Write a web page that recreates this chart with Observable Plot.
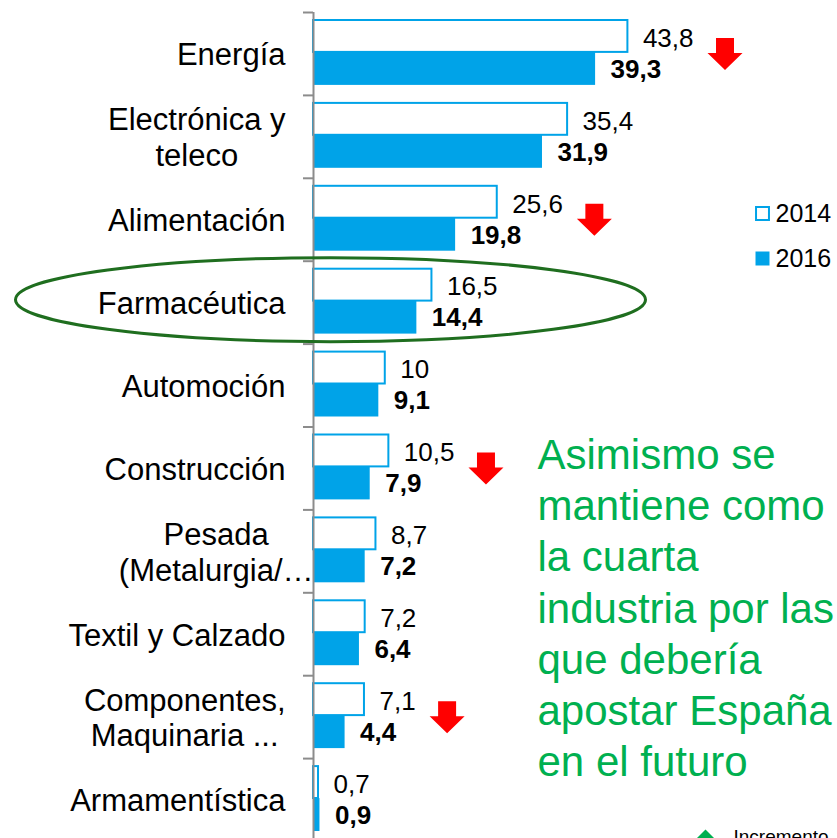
<!DOCTYPE html>
<html><head><meta charset="utf-8">
<script src="https://cdn.jsdelivr.net/npm/d3@7"></script>
<script src="https://cdn.jsdelivr.net/npm/@observablehq/plot@0.6"></script>
<style>
html,body{margin:0;padding:0;background:#fff;overflow:hidden}
#chart{width:837px;height:838px;overflow:hidden;position:relative}
#chart svg{overflow:hidden}
</style>
</head><body><div id="chart"></div>
<script>
// ---- data ----
const categories = ["Energía","Electrónica y\nteleco","Alimentación","Farmacéutica","Automoción","Construcción","Pesada\n(Metalurgia/…","Textil y Calzado","Componentes,\nMaquinaria ...","Armamentística"];
const values2014 = [43.8,35.4,25.6,16.5,10,10.5,8.7,7.2,7.1,0.7];
const values2016 = [39.3,31.9,19.8,14.4,9.1,7.9,7.2,6.4,4.4,0.9];
const seriesNames = ["2014","2016"];
const decreaseCats = ["Energía","Alimentación","Construcción","Componentes,\nMaquinaria ..."];
const highlightCat = "Farmacéutica";
const noteText = "Asimismo se\nmantiene como\nla cuarta\nindustria por las\nque debería\napostar España\nen el futuro";
const footLegend = "Incremento";

// ---- styling ----
const blue = "#00A3E8";
const green = "#00B050";
const darkGreen = "#1F6E1F";
const axisGray = "#8C8C8C";
const fontFamily = "'Liberation Sans', Arial, Helvetica, sans-serif";
const catFont = 31, valFont = 26;
const W = 837, H = 838, mL = 313, mT = 12;
const yRange = [12, 841];
const bw = (yRange[1] - yRange[0]) / categories.length;

const rows = categories.map((c, i) => ({cat: c, v14: values2014[i], v16: values2016[i]}));
const fmt = v => String(v).replace(".", ",");
const ctx = document.createElement("canvas").getContext("2d");
const measure = (s, px, weight = "normal") => { ctx.font = `${weight} ${px}px ${fontFamily}`; return ctx.measureText(s).width; };

const arrowSymbol = {draw(context, size) {
  const r = Math.sqrt(size / Math.PI);
  const sw = 0.514 * r, top = -0.914 * r, hs = -0.057 * r, tip = 0.914 * r;
  context.moveTo(-sw, top); context.lineTo(sw, top); context.lineTo(sw, hs);
  context.lineTo(r, hs); context.lineTo(0, tip); context.lineTo(-r, hs);
  context.lineTo(-sw, hs); context.closePath();
}};
const ellipseSymbol = {draw(context, size) {
  const ry = Math.sqrt(size / Math.PI), rx = ry * 7.5, k = 0.5523;
  context.moveTo(rx, 0);
  context.bezierCurveTo(rx, k * ry, k * rx, ry, 0, ry);
  context.bezierCurveTo(-k * rx, ry, -rx, k * ry, -rx, 0);
  context.bezierCurveTo(-rx, -k * ry, -k * rx, -ry, 0, -ry);
  context.bezierCurveTo(k * rx, -ry, rx, -k * ry, rx, 0);
  context.closePath();
}};

// category labels: block centred, right edge 28px left of axis
const labelMarks = categories.map(c => {
  const lines = c.split("\n");
  const w = Math.max(...lines.map(l => measure(l, catFont)));
  const right = c.endsWith("…") ? 0 : -28;
  return Plot.text([c], {y: d => d, text: d => d, frameAnchor: "left", textAnchor: "middle", lineAnchor: "middle",
    dx: right - w / 2, fontSize: catFont, lineHeight: 1.15, fill: "black"});
});

const arrowMarks = rows.filter(r => decreaseCats.includes(r.cat)).map(r =>
  Plot.dot([r], {x: "v14", y: "cat", dx: 15 + measure(fmt(r.v14), valFont) + 14 + 17.5,
    r: 17.5, symbol: arrowSymbol, fill: "#FF0000", stroke: "none"}));

const chart = Plot.plot({
  width: W, height: H,
  marginLeft: mL, marginRight: 0, marginTop: mT, marginBottom: 0,
  style: {fontFamily, background: "white", color: "black"},
  x: {domain: [0, 73], axis: null},
  y: {domain: categories, range: yRange, padding: 0, round: false, axis: null},
  marks: [
    Plot.barX(rows, {x: "v14", y: "cat", fill: "white", stroke: blue, strokeWidth: 2, insetTop: 8, insetBottom: 43}),
    Plot.barX(rows, {x: "v16", y: "cat", fill: blue, insetTop: 40, insetBottom: 10}),
    Plot.ruleX([0], {stroke: axisGray, strokeWidth: 2}),
    Plot.ruleY(categories, {y: d => d, x1: 0, x2: 0, insetLeft: -10, dy: -bw / 2, stroke: axisGray, strokeWidth: 2}),
    Plot.text(rows, {x: "v14", y: "cat", text: d => fmt(d.v14), dx: 15, dy: -15.5, textAnchor: "start", fontSize: valFont, fill: "black"}),
    Plot.text(rows, {x: "v16", y: "cat", text: d => fmt(d.v16), dx: 15, dy: 15.5, textAnchor: "start", fontSize: valFont, fontWeight: "bold", fill: "black"}),
    ...labelMarks,
    ...arrowMarks,
    Plot.dot([highlightCat], {y: d => d, frameAnchor: "left", dx: 17, dy: -3, r: 42, symbol: ellipseSymbol, fill: "none", stroke: darkGreen, strokeWidth: 3}),
    Plot.text([noteText], {text: d => d, frameAnchor: "top-left", dx: 224, dy: 420, lineAnchor: "top", textAnchor: "start", fontSize: 42, lineHeight: 1.22, fill: green}),
    // legend
    Plot.dot([seriesNames[0]], {frameAnchor: "top-left", dx: 449, dy: 201, symbol: "square", r: 7.3, fill: "white", stroke: blue, strokeWidth: 2}),
    Plot.dot([seriesNames[1]], {frameAnchor: "top-left", dx: 449, dy: 246, symbol: "square", r: 7.9, fill: blue, stroke: "none"}),
    Plot.text([seriesNames[0]], {text: d => d, frameAnchor: "top-left", dx: 462, dy: 201, lineAnchor: "middle", textAnchor: "start", fontSize: 25, fill: "black"}),
    Plot.text([seriesNames[1]], {text: d => d, frameAnchor: "top-left", dx: 462, dy: 246, lineAnchor: "middle", textAnchor: "start", fontSize: 25, fill: "black"}),
    // partially visible footnote legend (cut at the bottom edge, as in the original)
    Plot.dot([footLegend], {frameAnchor: "bottom-left", dx: 392, dy: 0, symbol: "diamond2", r: 8.1, fill: green, stroke: "none"}),
    Plot.text([footLegend], {text: d => d, frameAnchor: "bottom-left", dx: 420, dy: -9, lineAnchor: "top", textAnchor: "start", fontSize: 19, fill: "black"})
  ]
});
document.getElementById("chart").appendChild(chart);
</script>
</body></html>
